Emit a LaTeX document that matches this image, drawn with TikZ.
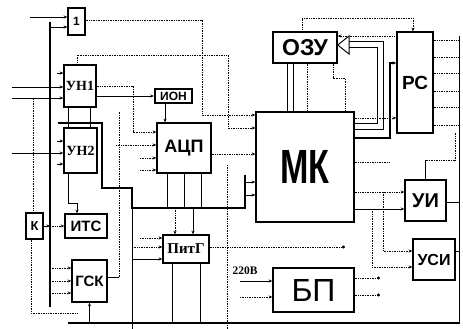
\documentclass[tikz,border=0pt]{standalone}
\usepackage{fontspec}
\usepackage{graphicx}
\setmainfont{Liberation Sans}
\newfontfamily\serifcyr{Liberation Serif}
\usetikzlibrary{arrows.meta}

\begin{document}
\begin{tikzpicture}[
    x=1pt, y=-1pt,
    blk/.style={rectangle, draw=black, line width=1.5pt, fill=white, inner sep=0pt, font=\bfseries},
    bus/.style={line width=2pt},
    wire/.style={line width=0.8pt},
    sig/.style={densely dotted, line width=0.7pt},
    arr/.style={-{Stealth[length=3.5pt,width=3pt]}},
    dotend/.style={-{Circle[length=3pt]}}
]
\useasboundingbox (0,0) rectangle (463,329);

% --- Blocks ---
\node[blk, minimum width=17pt, minimum height=27pt, font=\bfseries\fontsize{12}{12}\selectfont] (one) at (76.5,21.5) {1};
\node[blk, minimum width=32pt, minimum height=42pt, font=\serifcyr\bfseries\fontsize{14}{14}\selectfont] (un1) at (80,86) {УН1};
\node[blk, minimum width=33pt, minimum height=45pt, font=\serifcyr\bfseries\fontsize{14}{14}\selectfont] (un2) at (80.5,150.5) {УН2};
\node[blk, line width=2.4pt, minimum width=37pt, minimum height=14pt, font=\bfseries\fontsize{12}{12}\selectfont] (ion) at (173.5,96) {ИОН};
\node[blk, minimum width=54pt, minimum height=50pt, font=\bfseries\fontsize{18}{18}\selectfont] (adc) at (184,148) {АЦП};
\node[blk, minimum width=64pt, minimum height=31pt, font=\bfseries\fontsize{23}{23}\selectfont] (ozu) at (305,47.5) {ОЗУ};
\node[blk, minimum width=36pt, minimum height=101pt, font=\bfseries\fontsize{19}{19}\selectfont] (rs) at (415,82.5) {РС};
\node[blk, minimum width=98pt, minimum height=110pt, font=\bfseries\fontsize{48}{48}\selectfont] (mk) at (305,167) {\scalebox{0.71}[1]{МК}};
\node[blk, minimum width=41pt, minimum height=41pt, font=\bfseries\fontsize{20}{20}\selectfont] (ui) at (425.5,200.5) {УИ};
\node[blk, minimum width=42pt, minimum height=41pt, font=\bfseries\fontsize{16}{16}\selectfont] (usi) at (434,259.5) {УСИ};
\node[blk, minimum width=81pt, minimum height=44pt, font=\fontsize{32}{32}\selectfont] (bp) at (313.5,290) {БП};
\node[blk, minimum width=46pt, minimum height=28pt, font=\serifcyr\bfseries\fontsize{15}{15}\selectfont] (pitg) at (186,249) {ПитГ};
\node[blk, minimum width=35pt, minimum height=42pt, font=\bfseries\fontsize{15}{15}\selectfont] (gsk) at (89.5,281) {ГСК};
\node[blk, minimum width=42pt, minimum height=24pt, font=\bfseries\fontsize{15}{15}\selectfont] (its) at (86,226) {ИТС};
\node[blk, minimum width=17pt, minimum height=26pt, font=\bfseries\fontsize{13}{13}\selectfont] (k) at (34.5,226) {К};
\node[font=\serifcyr\bfseries\fontsize{11.5}{11.5}\selectfont] (volt) at (245,271) {220В};

% --- Buses and frame ---
\coordinate (bustop) at (50,22);
\coordinate (busbot) at (50,307);
\coordinate (gl) at (68,323);
\coordinate (gr) at (460,323);
\coordinate (rt) at (459,36);
\draw[bus] (bustop) -- (busbot);
\draw[line width=1.8pt] (gl) -- (gr);
\draw[wire] (rt) -- (rt |- gr);
\draw[bus] (58,123) -- (102,123) -- (102,188) -- (132,188) -- (132,208) -- (245,208) -- (245,175);
\draw[wire] (132,208) -- (132,329);
\draw[sig] (227,165) -- (227,329);

% --- Input side ---
\draw[wire, arr] (30,17) -- (one.west |- 0,17);
\draw[wire, arr] (bustop |- 0,27) -- (one.west |- 0,27);
\draw[sig, arr] (one.east |- 0,20) -- (202,20) -- (202,115) -- (mk.west |- 0,115);
\draw[sig, arr] (un1.north -| 77,0) -- (77,55) -- (228,55) -- (228,128) -- (mk.west |- 0,128);
\draw[wire, arr] (57,73) -- (un1.west |- 0,73);
\draw[wire, arr] (12,87) -- (un1.west |- 0,87);
\draw[wire, arr] (12,98) -- (un1.west |- 0,98);
\draw[wire, arr] (57,141) -- (un2.west |- 0,141);
\draw[wire, arr] (12,153) -- (un2.west |- 0,153);
\draw[wire, arr] (57,164) -- (un2.west |- 0,164);
\draw[wire] (un1.south -| 68,0) -- (un2.north -| 68,0);
\draw[wire] (un1.south -| 90,0) -- (un2.north -| 90,0);
\draw[wire, arr] (un1.east |- ion.west) -- (ion.west);
\draw[sig, arr] (un1.east |- 0,86) -- (133,86) -- (133,132) -- (adc.west |- 0,132);
\draw[wire, arr] (ion.south -| 165,0) -- (adc.north -| 165,0);
\draw[sig, arr] (116,145) -- (adc.west |- 0,145);
\draw[sig, arr] (140,158) -- (adc.west |- 0,158);
\draw[sig, arr] (140,170) -- (adc.west |- 0,170);
\draw[sig, arr] (adc.east |- 0,154) -- (mk.west |- 0,154);
\draw[wire] (adc.south -| 167,0) -- (167,208);
\draw[wire] (adc.south -| 184,0) -- (184,208);
\draw[wire] (adc.south -| 201,0) -- (201,208);
\draw[wire, arr] (245,182) -- (mk.west |- 0,182);
\draw[wire, arr] (245,195) -- (mk.west |- 0,195);

% --- Left column ---
\draw[sig] (k.north -| 33,0) -- (33,98);
\draw[sig] (k.south -| 31,0) -- (31,313) -- (78,313);
\draw[wire, arr] (k.east) -- (bustop |- k.east);
\draw[sig, arr] (bustop |- its.west) -- (its.west);
\draw[wire, arr] (un2.south -| 68,0) -- (68,203) -- (77,203) -- (its.north -| 77,0);
\draw[sig, arr] (bustop |- 0,268) -- (gsk.west |- 0,268);
\draw[sig, arr] (bustop |- 0,281) -- (gsk.west |- 0,281);
\draw[sig, arr] (bustop |- 0,293) -- (gsk.west |- 0,293);
\draw[wire] (gsk.east |- 0,277) -- (119,277);
\draw[sig] (119,277) -- (119,112);
\draw[wire, arr] (gsk.south |- gl) -- (gsk.south);

% --- ПитГ and БП ---
\draw[sig, arr] (175,208) -- (pitg.north -| 175,0);
\draw[wire, arr] (193,208) -- (pitg.north -| 193,0);
\draw[sig, arr] (140,238) -- (pitg.west |- 0,238);
\draw[sig, arr] (132,247) -- (pitg.west |- 0,247);
\draw[wire, arr] (132,259) -- (pitg.west |- 0,259);
\draw[sig, dotend] (pitg.east |- 0,247) -- (345,247);
\draw[wire] (pitg.south -| 172,0) -- (172,323);
\draw[wire] (pitg.south -| 200,0) -- (200,323);
\draw[wire, arr] (240,281) -- (bp.west |- 0,281);
\draw[sig, arr] (240,297) -- (bp.west |- 0,297);
\draw[sig, dotend] (bp.east |- 0,278) -- (380,278);
\draw[sig, dotend] (bp.east |- 0,295) -- (380,295);

% --- Output side ---
\draw[sig, arr] (mk.east |- 0,192) -- (ui.west |- 0,192);
\draw[wire, arr] (mk.east |- 0,209) -- (ui.west |- 0,209);
\draw[sig, arr] (383,192) -- (383,251) -- (usi.west |- 0,251);
\draw[sig, arr] (372,209) -- (372,267) -- (usi.west |- 0,267);
\draw[wire] (ui.east |- 0,202) -- (rt |- 0,202);
\draw[wire] (usi.east |- 0,251) -- (rt |- 0,251);
\draw[wire] (ui.north) -- (ui.north |- 0,160);
\draw[sig] (ui.north |- 0,160) -- (455,160) -- (455,133);
\draw[sig] (mk.east |- 0,162) -- (390,162);

% --- Memory ---
\draw[wire] (ozu.south -| 287,0) -- (mk.north -| 287,0);
\draw[wire] (ozu.south -| 293,0) -- (mk.north -| 293,0);
\draw[sig] (ozu.south -| 307,0) -- (mk.north -| 307,0);
\draw[sig] (ozu.south -| 333,0) -- (333,78) -- (345,78) -- (mk.north -| 345,0);
\draw[line width=1pt, double, double distance=5pt] (mk.east |- 0,126) -- (380,126) -- (380,45) -- (349,45);
\draw[line width=1pt, fill=white] (ozu.east |- 0,45) -- (349,36) -- (349,54) -- cycle;
\draw[line width=1.2pt, arr] (mk.east |- 0,138) -- (390,138) -- (390,63) -- (rs.west |- 0,63);
\draw[sig, arr] (mk.east |- 0,118) -- (rs.west |- 0,118);
\draw[sig, arr] (rs.west |- 0,36) -- (ozu.east |- 0,36);
\draw[sig, arr] (ozu.north -| 302,0) -- (302,18) -- (413,18) -- (rs.north -| 413,0);
\draw[sig] (rs.east |- 0,40) -- (rt |- 0,40);
\draw[sig] (rs.east |- 0,57) -- (rt |- 0,57);
\draw[sig] (rs.east |- 0,73) -- (rt |- 0,73);
\draw[sig] (rs.east |- 0,91) -- (rt |- 0,91);
\draw[sig] (rs.east |- 0,107) -- (rt |- 0,107);
\draw[sig] (rs.east |- 0,125) -- (rt |- 0,125);
\end{tikzpicture}
\end{document}
